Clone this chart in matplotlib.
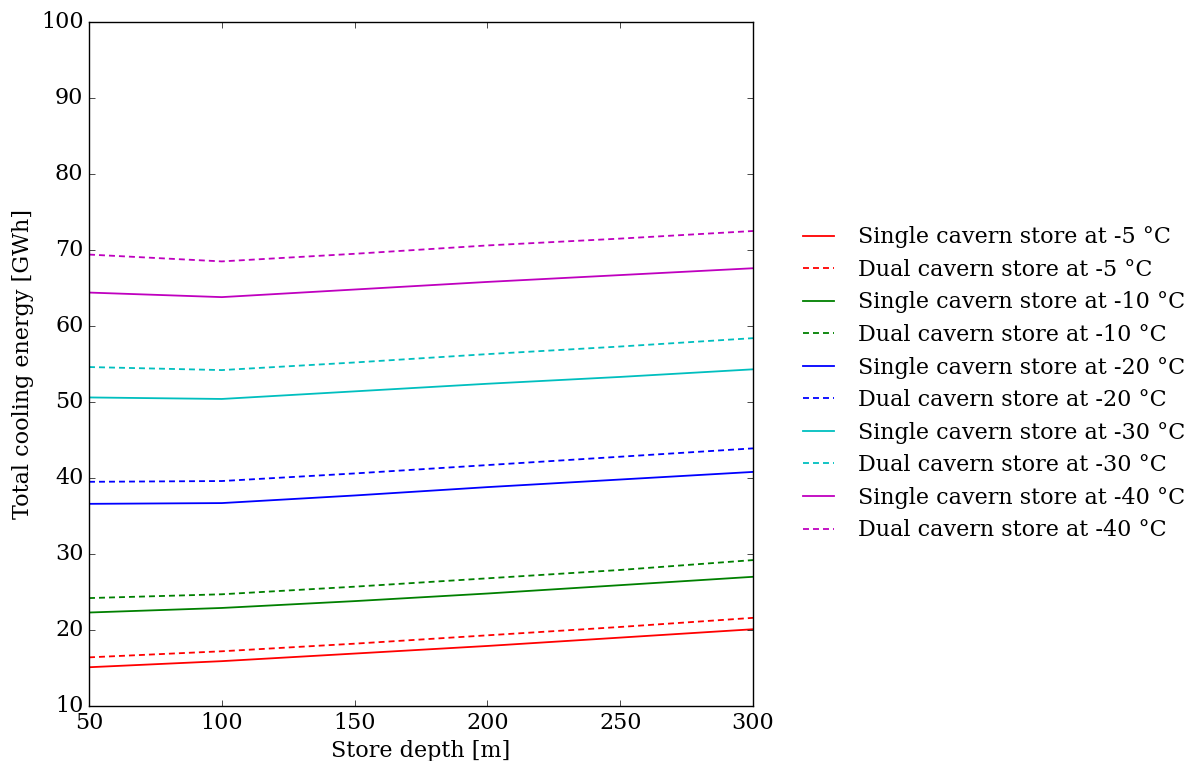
import matplotlib
matplotlib.use("Agg")
import matplotlib.pyplot as plt

plt.style.use('classic')
plt.rcParams['font.family'] = 'serif'
plt.rcParams['font.serif'] = ['DejaVu Serif']

depths = [50, 100, 150, 200, 250, 300]

temps = [-5, -10, -20, -30, -40]
colors = ['r', 'g', 'b', 'c', 'm']

# total cooling energy [GWh], single and dual cavern stores
single_5 = [15.1, 15.9, 16.9, 17.9, 19.0, 20.1]
dual_5 = [16.4, 17.2, 18.2, 19.3, 20.4, 21.6]
single_10 = [22.3, 22.9, 23.8, 24.8, 25.9, 27.0]
dual_10 = [24.2, 24.7, 25.7, 26.8, 27.9, 29.2]
single_20 = [36.6, 36.7, 37.7, 38.8, 39.8, 40.8]
dual_20 = [39.5, 39.6, 40.6, 41.7, 42.8, 43.9]
single_30 = [50.6, 50.4, 51.4, 52.4, 53.3, 54.3]
dual_30 = [54.6, 54.2, 55.2, 56.3, 57.3, 58.4]
single_40 = [64.4, 63.8, 64.8, 65.8, 66.7, 67.6]
dual_40 = [69.4, 68.5, 69.5, 70.6, 71.5, 72.5]

singles = [single_5, single_10, single_20, single_30, single_40]
duals = [dual_5, dual_10, dual_20, dual_30, dual_40]

fig = plt.figure(figsize=(11.97, 7.61), dpi=100, facecolor='white')
ax = fig.add_axes([89 / 1197, 1 - 706 / 761, (753 - 89) / 1197, (706 - 22) / 761])

for t, c, s, d in zip(temps, colors, singles, duals):
    ax.plot(depths, s, color=c, linestyle='-', lw=1.3,
            label='Single cavern store at %d °C' % t)
    ax.plot(depths, d, color=c, linestyle='--', lw=1.3, dashes=[4.3, 2.9],
            label='Dual cavern store at %d °C' % t)

ax.set_xlim(50, 300)
ax.set_ylim(10, 100)
ax.set_xlabel('Store depth [m]', fontsize=16)
ax.set_ylabel('Total cooling energy [GWh]', fontsize=16)
ax.tick_params(labelsize=16)

ax.legend(loc='center left', bbox_to_anchor=(1.035, 0.471), frameon=False,
          fontsize=16, labelspacing=0.475)

fig.savefig('out.png', dpi=100, facecolor='white')
